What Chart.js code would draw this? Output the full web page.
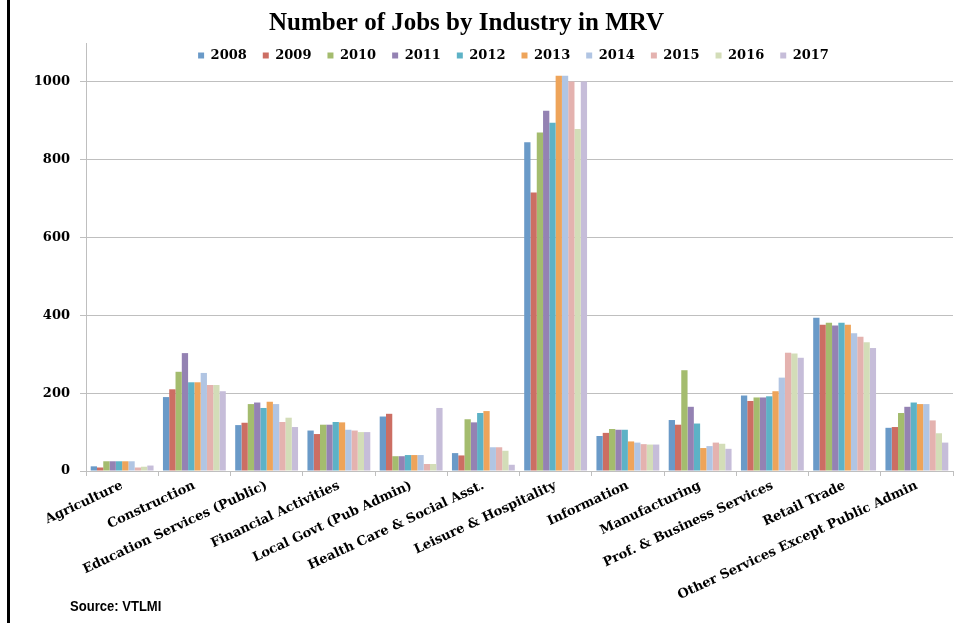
<!DOCTYPE html>
<html lang="en">
<head>
  <meta charset="UTF-8">
  <title>Number of Jobs by Industry in MRV</title>
  <script src="https://cdn.jsdelivr.net/npm/chart.js"></script>
  <style>
    body { margin: 0; background: #fff; }
    #wrap { position: relative; width: 954px; height: 623px; overflow: hidden; }
    #jobsChart { position: absolute; left: 0; top: 0; }
    .leftRule { position: absolute; left: 7px; top: 0; width: 3px; height: 623px; background: #000; }
    .source {
      position: absolute; left: 70px; top: 597px;
      font: bold 15px "Liberation Sans", Arial, sans-serif;
      transform: scaleX(0.87); transform-origin: left top;
      color: #000;
    }
  </style>
</head>
<body>
<div id="wrap">
  <canvas id="jobsChart" width="954" height="623"></canvas>
  <div class="leftRule"></div>
  <div class="source">Source: VTLMI</div>
</div>

<script>
  // industries along the x axis
  const industries = [
    'Agriculture', 'Construction', 'Education Services (Public)', 'Financial Activities',
    'Local Govt (Pub Admin)', 'Health Care & Social Asst.', 'Leisure & Hospitality',
    'Information', 'Manufacturing', 'Prof. & Business Services', 'Retail Trade',
    'Other Services Except Public Admin'
  ];

  const years = ['2008', '2009', '2010', '2011', '2012', '2013', '2014', '2015', '2016', '2017'];

  // jobs per industry, one array per year (same order as industries)
  const jobs2008 = [12, 190, 118, 104, 140, 46, 845, 90, 131, 194, 394, 111];
  const jobs2009 = [9, 210, 124, 95, 147, 40, 716, 98, 119, 180, 376, 113];
  const jobs2010 = [25, 255, 172, 119, 38, 133, 870, 108, 259, 189, 381, 149];
  const jobs2011 = [25, 303, 176, 119, 38, 125, 926, 106, 165, 189, 374, 165];
  const jobs2012 = [25, 228, 162, 126, 41, 149, 895, 106, 122, 192, 381, 176];
  const jobs2013 = [25, 228, 178, 125, 41, 154, 1016, 76, 59, 205, 376, 172];
  const jobs2014 = [25, 252, 172, 106, 41, 61, 1016, 73, 64, 240, 354, 172];
  const jobs2015 = [9, 221, 126, 104, 18, 61, 1001, 69, 73, 304, 345, 130];
  const jobs2016 = [11, 221, 137, 100, 18, 52, 879, 68, 70, 302, 331, 97];
  const jobs2017 = [14, 205, 113, 100, 162, 16, 1001, 68, 57, 291, 316, 73];

  const yTicks = [0, 200, 400, 600, 800, 1000];

  const series = [jobs2008, jobs2009, jobs2010, jobs2011, jobs2012, jobs2013, jobs2014, jobs2015, jobs2016, jobs2017];
  const colors = ['#6A9AC8', '#CC6E63', '#A4BC6E', '#9482B3', '#5DB2C6',
                  '#EEA45A', '#B1C5E3', '#E4B2AF', '#D3DDB8', '#C6BDD9'];

  const serif = '"DejaVu Serif", serif';

  // the legend sits over the top of the plot, so it takes no room in the layout;
  // it is moved into place once the layout is done (title nudged left a bit too)
  const floatLegend = {
    id: 'floatLegend',
    beforeLayout(chart) {
      const lg = chart.legend;
      if (lg && !lg._flat) {
        const fit = lg.fit;
        lg.fit = function () { fit.call(this); this.height = 0; };
        lg._flat = true;
      }
    },
    afterLayout(chart) {
      const lg = chart.legend;
      lg.top = 33;
      lg.height = 30;
      lg.bottom = lg.top + lg.height;
      lg.left += 74;
      chart.titleBlock.left -= 20;
    }
  };

  const ctx = document.getElementById('jobsChart');

  new Chart(ctx, {
    type: 'bar',
    data: {
      labels: industries,
      datasets: years.map((y, i) => ({
        label: y,
        data: series[i],
        backgroundColor: colors[i],
        borderWidth: 0,
        categoryPercentage: 0.87,
        barPercentage: 1
      }))
    },
    options: {
      responsive: false,
      animation: false,
      devicePixelRatio: 1,
      layout: { padding: { left: 0, right: 1, top: 0, bottom: 0 } },
      plugins: {
        title: {
          display: true,
          text: 'Number of Jobs by Industry in MRV',
          color: '#000',
          font: { family: '"Liberation Serif", serif', size: 25, weight: 'bold' },
          padding: { top: 9, bottom: 4 }
        },
        legend: {
          position: 'top',
          labels: {
            boxWidth: 6,
            boxHeight: 6,
            padding: 16,
            color: '#000',
            font: { family: serif, size: 13, weight: 'bold' }
          }
        },
        tooltip: { enabled: false }
      },
      scales: {
        x: {
          grid: { display: true, drawOnChartArea: false, color: '#BFBFBF', tickLength: 5, offset: true },
          border: { color: '#BFBFBF' },
          ticks: {
            autoSkip: false,
            maxRotation: 25,
            minRotation: 25,
            padding: 2,
            color: '#000',
            font: { family: serif, size: 13, weight: 'bold' }
          },
          afterFit(scale) { scale.height = 152; }
        },
        y: {
          min: 0,
          max: 1100,
          grid: { color: '#BFBFBF', tickLength: 6 },
          border: { color: '#BFBFBF' },
          ticks: {
            stepSize: 200,
            padding: 10,
            color: '#000',
            font: { family: serif, size: 13, weight: 'bold' },
            callback: v => String(v)
          },
          afterBuildTicks(scale) {
            scale.ticks = yTicks.map(v => ({ value: v }));
          },
          afterFit(scale) { scale.width = 86; }
        }
      }
    },
    plugins: [floatLegend]
  });
</script>
</body>
</html>
